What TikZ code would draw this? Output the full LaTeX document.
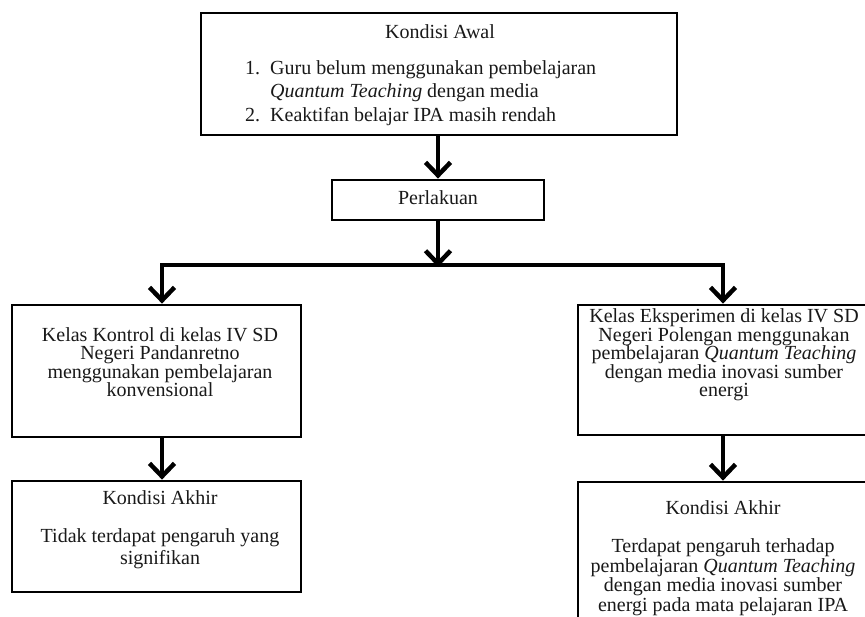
\documentclass[tikz,border=0pt]{standalone}
\usepackage{fontspec}
\setmainfont{Liberation Serif}
\usetikzlibrary{arrows.meta}
\begin{document}
\begin{tikzpicture}[x=1pt,y=-1pt,
  box/.style={draw=black,line width=2.8pt,rectangle,inner sep=0pt,fill=white},
  txt/.style={inner sep=0pt,align=center,font=\fontsize{20}{18.5}\selectfont,text=black!90},
  flow/.style={line width=4.5pt,-{Straight Barb[length=13pt,width=25pt,line width=4.5pt]}},
  bar/.style={line width=4.5pt}]
\useasboundingbox (0,0) rectangle (865,616);
\clip (0,0) rectangle (865,616);
% boxes
\node[box,minimum width=476pt,minimum height=122pt] (awal) at (439,74) {};
\node[box,minimum width=212pt,minimum height=40pt] (perl) at (438,200) {};
\node[box,minimum width=289pt,minimum height=132pt] (kontrol) at (156.5,371) {};
\node[box,minimum width=289pt,minimum height=111pt] (akhirL) at (156.5,536.5) {};
\node[box,minimum width=292pt,minimum height=130pt] (eksp) at (724,370) {};
\node[box,minimum width=292pt,minimum height=160pt] (akhirR) at (724,562) {};
% texts
\node[txt] (t1) at (440,32) {Kondisi Awal};
\node[txt,anchor=west,font=\fontsize{20}{23.5}\selectfont] (t2) at (245,93)
  {\begin{tabular}{@{}l@{\hspace{10pt}}l@{}}1. & Guru belum menggunakan pembelajaran\\
   & \textit{Quantum Teaching} dengan media\\
   2. & Keaktifan belajar IPA masih rendah\end{tabular}};
\node[txt] (t3) at (438,198) {Perlakuan};
\node[txt] (t4) at (160,362) {Kelas Kontrol di kelas IV SD\\Negeri Pandanretno\\menggunakan pembelajaran\\konvensional};
\node[txt] (t5) at (724,355) {Kelas Eksperimen di kelas IV SD\\Negeri Polengan menggunakan\\pembelajaran \textit{Quantum Teaching}\\dengan media inovasi sumber\\energi};
\node[txt] (t6) at (160,498) {Kondisi Akhir};
\node[txt,font=\fontsize{20}{22}\selectfont] (t7) at (160,549) {Tidak terdapat pengaruh yang\\signifikan};
\node[txt] (t8) at (723,508) {Kondisi Akhir};
\node[txt,font=\fontsize{20}{19.5}\selectfont] (t9) at (723,577) {Terdapat pengaruh terhadap\\pembelajaran \textit{Quantum Teaching}\\dengan media inovasi sumber\\energi pada mata pelajaran IPA};
% connectors
\coordinate (split) at (438,265);
\coordinate (sl) at (162,265);
\coordinate (sr) at (723,265);
\draw[flow] (awal.south -| perl.north) -- (perl.north);
\draw[flow] (perl.south) -- ([yshift=-2pt]split);
\draw[bar,line cap=rect] (sl) -- (sr);
\draw[flow] (sl) -- (sl |- kontrol.north);
\draw[flow] (sr) -- (sr |- eksp.north);
\draw[flow] (kontrol.south -| sl) -- (sl |- akhirL.north);
\draw[flow] (eksp.south -| sr) -- (sr |- akhirR.north);
\end{tikzpicture}
\end{document}
